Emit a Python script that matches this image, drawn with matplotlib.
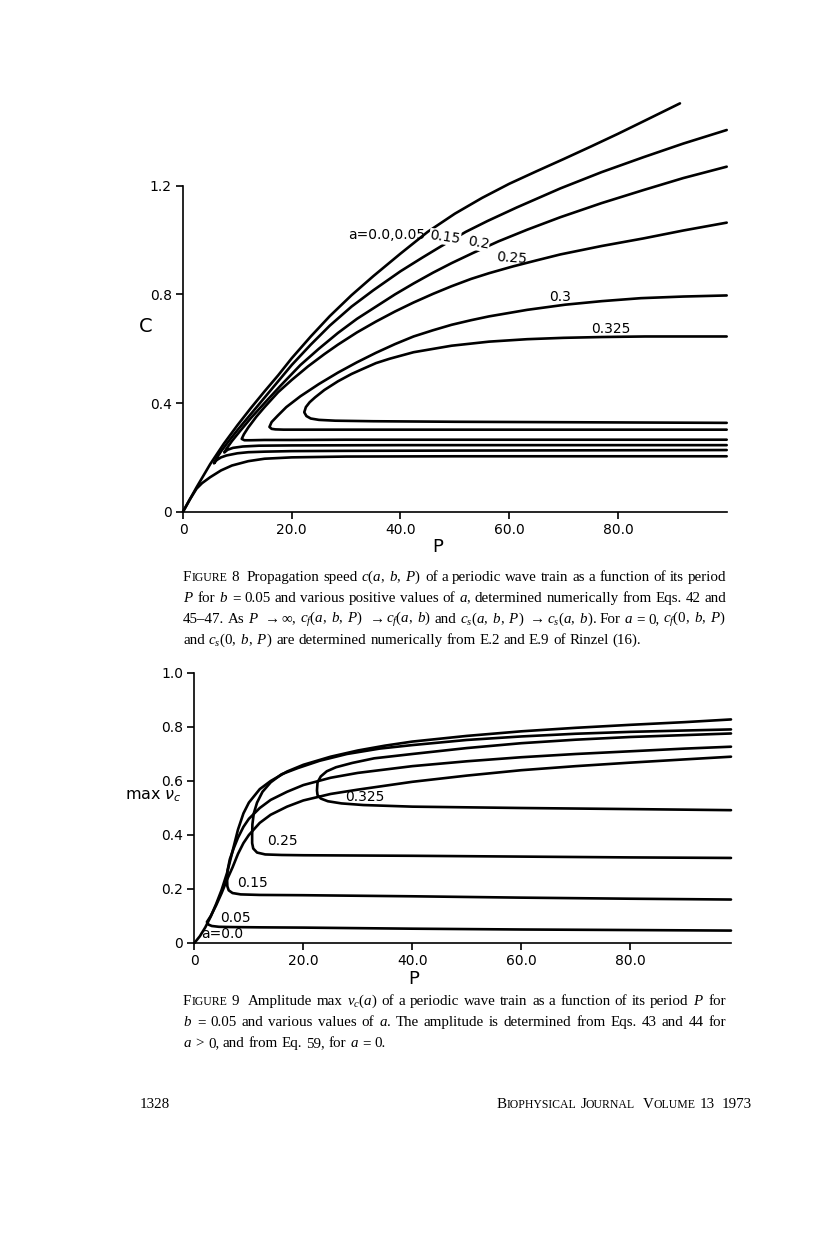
import matplotlib
matplotlib.use('Agg')
import matplotlib.pyplot as plt

plt.rcParams['mathtext.fontset'] = 'custom'
plt.rcParams['mathtext.rm'] = 'Liberation Serif'
plt.rcParams['mathtext.it'] = 'Liberation Serif:italic'
plt.rcParams['mathtext.bf'] = 'Liberation Serif:bold'

W, H = 816, 1233

# ---------------- Figure 8: speed c vs period P (b = 0.05) ----------------
p8_top = [0, 2.5, 5, 7.5, 10, 12.5, 15, 17.5, 20, 23.5, 27, 31, 35, 40, 45, 50, 55, 60, 65, 70, 75, 80, 85, 91.4]
c8_top = [0, 0.09, 0.175, 0.25, 0.318, 0.382, 0.443, 0.502, 0.565, 0.645, 0.72, 0.797, 0.867, 0.95, 1.03, 1.097,
          1.155, 1.207, 1.253, 1.298, 1.344, 1.391, 1.44, 1.503]

p8_005_lo = [0, 1.25, 2.5, 3.5, 5, 7, 9, 12, 15, 20, 30, 50, 75, 100]
c8_005_lo = [0, 0.045, 0.085, 0.105, 0.127, 0.152, 0.17, 0.186, 0.195, 0.2, 0.203, 0.204, 0.204, 0.204]

p8_015_up = [5.7, 6.2, 7, 8.5, 10, 12.5, 15, 17.5, 20, 23.5, 27, 31, 35, 40, 44, 47.3, 52, 56, 61.4, 69.4, 77, 84.7, 92, 100]
c8_015_up = [0.178, 0.198, 0.222, 0.262, 0.3, 0.36, 0.42, 0.48, 0.54, 0.615, 0.685, 0.755, 0.815, 0.885, 0.935, 0.975,
             1.03, 1.07, 1.12, 1.19, 1.25, 1.305, 1.355, 1.405]
p8_015_lo = [5.7, 6.2, 7, 8, 10, 12, 15, 20, 30, 50, 75, 100]
c8_015_lo = [0.178, 0.19, 0.2, 0.207, 0.215, 0.219, 0.221, 0.223, 0.224, 0.225, 0.226, 0.227]

p8_02_up = [7.6, 8, 9, 10.5, 12.5, 15, 18, 21.6, 25, 28.5, 32, 35.5, 39, 42.4, 46, 49.4, 53.4, 58, 63.3, 69.4, 77, 84.7, 92, 100]
c8_02_up = [0.218, 0.232, 0.26, 0.297, 0.345, 0.4, 0.465, 0.54, 0.6, 0.658, 0.71, 0.755, 0.8, 0.84, 0.88, 0.915,
            0.953, 0.995, 1.038, 1.084, 1.136, 1.184, 1.228, 1.27]
p8_02_lo = [7.6, 8.2, 9.2, 11, 14, 20, 40, 70, 100]
c8_02_lo = [0.218, 0.228, 0.235, 0.24, 0.243, 0.244, 0.245, 0.245, 0.245]

p8_025_up = [10.8, 11.2, 12, 13.5, 15, 17.5, 20, 23, 26, 28.5, 32, 35.5, 39, 42.4, 46, 49.4, 53, 56.3, 60.7, 65, 69.4,
             77, 84.7, 92, 100]
c8_025_up = [0.268, 0.285, 0.31, 0.35, 0.385, 0.44, 0.485, 0.535, 0.58, 0.615, 0.66, 0.7, 0.737, 0.77, 0.802, 0.83,
             0.857, 0.878, 0.903, 0.925, 0.947, 0.978, 1.006, 1.035, 1.064]
p8_025_lo = [10.8, 11.3, 12.5, 15, 20, 30, 50, 75, 100]
c8_025_lo = [0.268, 0.263, 0.263, 0.264, 0.264, 0.265, 0.265, 0.265, 0.265]

p8_03_up = [15.9, 16.3, 17.4, 19, 21.6, 25, 28.5, 32, 35.5, 39, 42.4, 46, 49.4, 53, 56.3, 63.3, 70.3, 77, 84.2, 92, 100]
c8_03_up = [0.312, 0.33, 0.353, 0.385, 0.425, 0.47, 0.512, 0.55, 0.585, 0.617, 0.645, 0.668, 0.688, 0.705, 0.719,
            0.743, 0.762, 0.775, 0.786, 0.792, 0.796]
p8_03_lo = [15.9, 16.3, 17, 18.5, 22, 30, 50, 75, 100]
c8_03_lo = [0.312, 0.305, 0.303, 0.302, 0.302, 0.302, 0.302, 0.302, 0.302]

p8_0325_up = [22.3, 22.6, 23.3, 24.3, 26, 28.5, 31, 33, 35.5, 38, 42.4, 49.4, 56.3, 63.3, 70, 77, 85, 100]
c8_0325_up = [0.366, 0.385, 0.403, 0.421, 0.448, 0.48, 0.507, 0.525, 0.547, 0.563, 0.587, 0.611, 0.626, 0.635, 0.64,
              0.643, 0.645, 0.645]
p8_0325_lo = [22.3, 22.7, 23.5, 25, 28, 35, 50, 75, 100]
c8_0325_lo = [0.366, 0.352, 0.343, 0.338, 0.335, 0.333, 0.331, 0.329, 0.327]

f8_xticks = [0, 20, 40, 60, 80]
f8_xticklabels = ['0', '20.0', '40.0', '60.0', '80.0']
f8_yticks = [0, 0.4, 0.8, 1.2]
f8_yticklabels = ['0', '0.4', '0.8', '1.2']

# label text, P, c, rotation
f8_labels = [('a=0.0,0.05', 37.5, 1.018, 0), ('0.15', 48.2, 1.01, -8), ('0.2', 54.3, 0.988, -10),
             ('0.25', 60.5, 0.933, -4), ('0.3', 69.4, 0.79, 0), ('0.325', 78.7, 0.672, 0)]

# ---------------- Figure 9: amplitude max v_c vs period P ----------------
p9_00 = [0, 1, 2, 3, 4, 5, 6, 7, 8, 9, 10, 12, 14, 17, 20, 25, 30, 35, 40, 50, 60, 70, 80, 90, 98.5]
v9_00 = [0, 0.025, 0.058, 0.098, 0.145, 0.197, 0.26, 0.34, 0.42, 0.48, 0.52, 0.57, 0.6, 0.635, 0.66, 0.69, 0.713,
         0.731, 0.746, 0.767, 0.784, 0.797, 0.808, 0.818, 0.828]

p9_005_up = [2.3, 3, 4, 5, 6, 7, 8, 9, 10, 12, 14, 17, 20, 25, 30, 40, 50, 60, 70, 80, 90, 98.5]
v9_005_up = [0.078, 0.1, 0.14, 0.185, 0.235, 0.28, 0.33, 0.37, 0.4, 0.445, 0.475, 0.505, 0.528, 0.552, 0.568, 0.597,
             0.62, 0.64, 0.655, 0.668, 0.68, 0.69]
p9_005_lo = [2.3, 2.6, 3.2, 4.5, 7, 12, 20, 40, 60, 80, 98.5]
v9_005_lo = [0.078, 0.068, 0.063, 0.06, 0.059, 0.058, 0.057, 0.053, 0.05, 0.048, 0.046]

p9_015_up = [6.0, 6.1, 6.5, 7.2, 8, 9, 10, 12, 14, 17, 20, 25, 30, 40, 50, 60, 70, 80, 90, 98.5]
v9_015_up = [0.235, 0.27, 0.31, 0.35, 0.39, 0.43, 0.46, 0.5, 0.53, 0.56, 0.585, 0.612, 0.63, 0.655, 0.673, 0.688,
             0.7, 0.71, 0.72, 0.727]
p9_015_lo = [6.0, 6.05, 6.3, 7, 8.5, 12, 20, 40, 60, 80, 98.5]
v9_015_lo = [0.235, 0.21, 0.195, 0.185, 0.18, 0.178, 0.177, 0.173, 0.168, 0.164, 0.161]

p9_025_up = [10.6, 10.65, 10.9, 11.5, 12.5, 14, 16, 19, 23, 28, 34, 40, 50, 60, 70, 80, 90, 98.5]
v9_025_up = [0.4, 0.44, 0.48, 0.52, 0.56, 0.595, 0.625, 0.648, 0.675, 0.7, 0.72, 0.733, 0.752, 0.765, 0.775, 0.782,
             0.787, 0.791]
p9_025_lo = [10.6, 10.6, 10.8, 11.5, 13, 16, 20, 40, 60, 80, 98.5]
v9_025_lo = [0.4, 0.37, 0.35, 0.335, 0.328, 0.326, 0.325, 0.323, 0.32, 0.317, 0.315]

p9_0325_up = [22.5, 22.6, 23.2, 24.3, 26, 29, 33, 40, 50, 60, 70, 80, 90, 98.5]
v9_0325_up = [0.565, 0.595, 0.617, 0.636, 0.651, 0.667, 0.684, 0.7, 0.722, 0.74, 0.753, 0.763, 0.77, 0.776]
p9_0325_lo = [22.5, 22.6, 23.2, 24.5, 27, 31, 40, 60, 80, 98.5]
v9_0325_lo = [0.565, 0.548, 0.535, 0.525, 0.517, 0.511, 0.505, 0.5, 0.496, 0.492]

f9_xticks = [0, 20, 40, 60, 80]
f9_xticklabels = ['0', '20.0', '40.0', '60.0', '80.0']
f9_yticks = [0, 0.2, 0.4, 0.6, 0.8, 1.0]
f9_yticklabels = ['0', '0.2', '0.4', '0.6', '0.8', '1.0']

f9_labels = [('0.325', 31.3, 0.54), ('0.25', 16.1, 0.378), ('0.15', 10.6, 0.222), ('0.05', 7.6, 0.093),
             ('a=0.0', 5.1, 0.033)]


def fx(x):
    return x / W


def fy(y):
    return 1 - y / H


def draw_branch(ax, up_p, up_v, lo_p=None, lo_v=None):
    xs = list(reversed(up_p))
    ys = list(reversed(up_v))
    if lo_p is not None:
        xs += list(lo_p[1:])
        ys += list(lo_v[1:])
    ax.plot(xs, ys, color='black', lw=1.9, clip_on=False, solid_joinstyle='round', solid_capstyle='round')


def style_axes(ax, xt, xtl, yt, ytl):
    for s in ('top', 'right'):
        ax.spines[s].set_visible(False)
    for s in ('left', 'bottom'):
        ax.spines[s].set_linewidth(1.2)
    ax.set_xticks(xt)
    ax.set_xticklabels(xtl)
    ax.set_yticks(yt)
    ax.set_yticklabels(ytl)
    ax.tick_params(direction='out', length=5, width=1.2, labelsize=10, pad=3)
    ax.patch.set_alpha(0)


fig = plt.figure(figsize=(W / 100, H / 100), dpi=100)

# figure 8 axes
ax8 = fig.add_axes([fx(183), fy(511.7), (726.7 - 183) / W, (511.7 - 185.7) / H])
ax8.set_xlim(0, 100)
ax8.set_ylim(0, 1.2)
style_axes(ax8, f8_xticks, f8_xticklabels, f8_yticks, f8_yticklabels)
draw_branch(ax8, p8_top, c8_top)
draw_branch(ax8, p8_005_lo, c8_005_lo)
draw_branch(ax8, p8_015_up, c8_015_up, p8_015_lo, c8_015_lo)
draw_branch(ax8, p8_02_up, c8_02_up, p8_02_lo, c8_02_lo)
draw_branch(ax8, p8_025_up, c8_025_up, p8_025_lo, c8_025_lo)
draw_branch(ax8, p8_03_up, c8_03_up, p8_03_lo, c8_03_lo)
draw_branch(ax8, p8_0325_up, c8_0325_up, p8_0325_lo, c8_0325_lo)
for txt, p, c, rot in f8_labels:
    ax8.text(p, c, txt, fontsize=10, ha='center', va='center', rotation=rot,
             bbox=dict(facecolor='white', edgecolor='none', pad=0.3) if txt in ('0.15', '0.2') else None)
fig.text(fx(146), fy(327), 'C', fontsize=14, ha='center', va='center')
fig.text(fx(438), fy(547), 'P', fontsize=13, ha='center', va='center')

# figure 9 axes
ax9 = fig.add_axes([fx(194.4), fy(943), (731 - 194.4) / W, 270 / H])
ax9.set_xlim(0, 98.5)
ax9.set_ylim(0, 1.0)
style_axes(ax9, f9_xticks, f9_xticklabels, f9_yticks, f9_yticklabels)
draw_branch(ax9, p9_00, v9_00)
draw_branch(ax9, p9_005_up, v9_005_up, p9_005_lo, v9_005_lo)
draw_branch(ax9, p9_015_up, v9_015_up, p9_015_lo, v9_015_lo)
draw_branch(ax9, p9_025_up, v9_025_up, p9_025_lo, v9_025_lo)
draw_branch(ax9, p9_0325_up, v9_0325_up, p9_0325_lo, v9_0325_lo)
for txt, p, v in f9_labels:
    ax9.text(p, v, txt, fontsize=10, ha='center', va='center')
fig.text(fx(182), fy(796), r'max $\nu_c$', fontsize=11.5, ha='right', va='center', math_fontfamily='dejavusans')
fig.text(fx(414), fy(979), 'P', fontsize=13, ha='center', va='center')

renderer = fig.canvas.get_renderer()


def put_line(tokens, y, x0=183, x1=726, size=10.8, mode='justify'):
    items = []
    for tok in tokens:
        if tok.startswith('SC:'):
            word = tok[3:]
            segs = [(word[0], size), (word[1:], size * 0.78)]
        else:
            segs = [(tok, size)]
        arts = []
        total_w = 0
        for s, sz in segs:
            if not s:
                continue
            t = fig.text(0, fy(y), s, fontsize=sz, family='Liberation Serif', va='baseline')
            wd = t.get_window_extent(renderer=renderer).width
            arts.append((t, wd))
            total_w += wd
        items.append((arts, total_w))
    total = sum(w for _, w in items)
    space = size * 100 / 72 * 0.25
    if mode == 'justify' and len(items) > 1:
        gap = (x1 - x0 - total) / (len(items) - 1)
    else:
        gap = space
    if mode == 'right':
        x = x1 - total - gap * (len(items) - 1)
    else:
        x = x0
    for arts, w in items:
        for t, wd in arts:
            t.set_x(fx(x))
            x += wd
        x += gap


cap8 = [
    ['SC:FIGURE', '8', '', 'Propagation', 'speed', r'$c(a,\;b,\;P)$', 'of', 'a', 'periodic', 'wave', 'train', 'as',
     'a', 'function', 'of', 'its', 'period'],
    [r'$P$', 'for', r'$b$', '=', '0.05', 'and', 'various', 'positive', 'values', 'of', r'$a$,', 'determined',
     'numerically', 'from', 'Eqs.', '42', 'and'],
    ['45–47.', 'As', r'$P$', r'$\rightarrow$', r'$\infty$,', r'$c_f(a,\;b,\;P)$', r'$\rightarrow$', r'$c_f(a,\;b)$',
     'and', r'$c_s(a,\;b,\;P)$', r'$\rightarrow$', r'$c_s(a,\;b)$.', 'For', r'$a$', '=', '0,', r'$c_f(0,\;b,\;P)$'],
    ['and', r'$c_s(0,\;b,\;P)$', 'are', 'determined', 'numerically', 'from', 'E.2', 'and', 'E.9', 'of', 'Rinzel',
     '(16).'],
]
cap9 = [
    ['SC:FIGURE', '9', '', 'Amplitude', 'max', r'$v_c(a)$', 'of', 'a', 'periodic', 'wave', 'train', 'as', 'a',
     'function', 'of', 'its', 'period', r'$P$', 'for'],
    [r'$b$', '=', '0.05', 'and', 'various', 'values', 'of', r'$a$.', 'The', 'amplitude', 'is', 'determined', 'from',
     'Eqs.', '43', 'and', '44', 'for'],
    [r'$a$', '>', '0,', 'and', 'from', 'Eq.', '59,', 'for', r'$a$', '=', '0.'],
]

for i, line in enumerate(cap8):
    put_line(line, 581 + 21 * i, mode='justify' if i < len(cap8) - 1 else 'left')
for i, line in enumerate(cap9):
    put_line(line, 1005 + 21 * i, mode='justify' if i < len(cap9) - 1 else 'left')

put_line(['1328'], 1108, x0=140, mode='left')
put_line(['SC:BIOPHYSICAL', 'SC:JOURNAL', '', 'SC:VOLUME', '13', '', '1973'], 1108, x1=752, mode='right')

fig.savefig('out.png', dpi=100, facecolor='white')
